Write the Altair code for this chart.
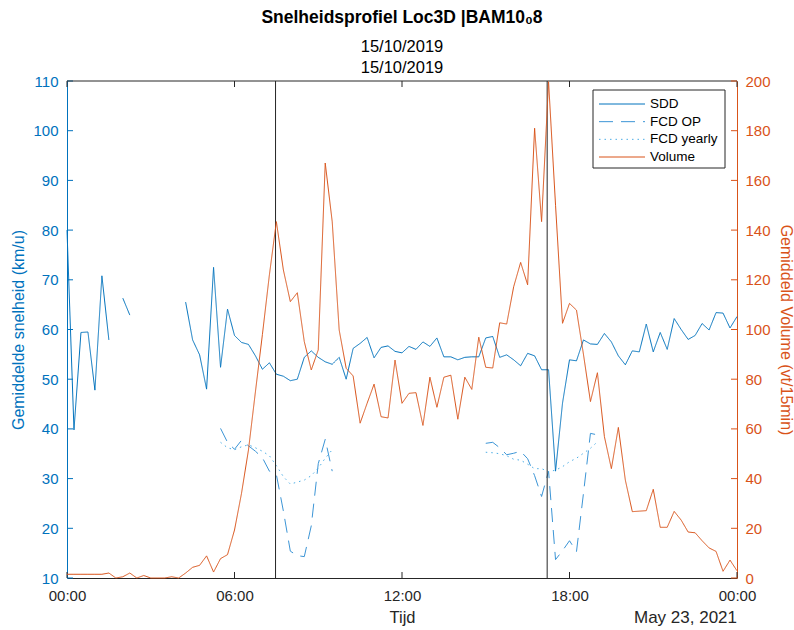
import altair as alt
import pandas as pd

# 15-minute intervals, 00:00 .. 24:00
STAP_UUR = 0.25

sdd = [
    80.0, 39.8, 59.4, 59.5, 47.8, 70.8, 57.9, None, 66.3, 62.9,
    None, None, None, None, None, None, None, 65.5, 57.9, 54.9,
    48.0, 72.5, 52.4, 64.1, 58.8, 57.4, 57.0, 54.7, 52.0, 53.3,
    51.0, 50.6, 49.7, 50.0, 54.4, 55.7, 54.4, 53.5, 53.0, 54.4,
    50.0, 56.2, 57.2, 58.4, 54.3, 56.4, 56.7, 55.6, 55.3, 56.6,
    56.0, 57.5, 56.6, 58.3, 54.5, 54.5, 53.9, 54.4, 54.5, 54.5,
    58.3, 58.6, 54.4, 54.9, 53.9, 52.7, 55.2, 54.7, 51.9, 51.9,
    31.5, 45.2, 53.9, 53.7, 57.9, 57.1, 57.0, 59.2, 57.5, 54.7,
    52.9, 55.7, 55.5, 61.1, 55.5, 59.4, 56.0, 62.2, 60.0, 58.0,
    58.8, 61.2, 59.9, 63.4, 63.3, 60.3, 62.6,
]

fcd_op = (
    [None] * 22
    + [40.1, 37.3, 35.9, 37.7, 36.6, 35.5, 34.2, 31.5, 30.8, 23.5,
       15.4, 14.5, 14.3, 20.5, 33.0, 37.9, 31.5]
    + [None] * 21
    + [37.1, 37.3, 36.2, 34.8, 35.1, 35.5, 34.0, 30.6, 26.4, 31.5,
       13.7, 15.5, 17.5, 15.3, 27.0, 39.1, 38.8]
    + [None] * 20
)

fcd_jaar = (
    [None] * 22
    + [37.3, 36.2, 35.8, 36.4, 36.8, 36.2, 35.5, 34.6, 32.6, 30.4,
       28.9, 29.3, 29.7, 30.6, 32.1, 34.1, 35.8]
    + [None] * 21
    + [35.3, 35.2, 35.0, 34.6, 33.9, 33.7, 32.9, 32.0, 32.0, 31.4,
       31.7, 32.4, 33.4, 34.1, 35.1, 36.1, 37.4]
    + [None] * 20
)

volume = [
    1.5, 1.5, 1.5, 1.5, 1.5, 1.5, 2.0, 0.0, 0.5, 2.0,
    0.0, 1.0, 0.0, 0.0, 0.0, 0.5, 0.0, 2.0, 4.3, 5.1,
    8.9, 2.4, 7.8, 9.4, 19.3, 34.0, 51.5, 75.0, 98.0, 122.0,
    143.4, 124.0, 111.2, 114.8, 95.1, 83.7, 91.8, 167.0, 143.4, 99.8,
    84.4, 81.3, 62.3, 70.3, 78.0, 64.9, 64.4, 87.7, 70.3, 74.3,
    74.6, 61.4, 80.8, 68.7, 80.8, 81.6, 63.9, 80.8, 75.9, 96.9,
    84.8, 84.5, 102.7, 102.2, 117.2, 127.0, 118.0, 181.0, 143.4, 199.7,
    150.0, 102.5, 110.5, 107.8, 90.0, 71.0, 82.6, 56.9, 44.0, 60.6,
    39.4, 26.7, 26.9, 27.1, 35.7, 20.4, 20.4, 26.8, 23.3, 18.5,
    18.2, 15.0, 12.1, 10.7, 2.7, 7.2, 2.9,
]

reeksen = ["SDD", "FCD OP", "FCD yearly", "Volume"]
kleuren = ["#0072BD", "#3C95D6", "#4DAEE6", "#D95319"]
streepjes = [[1, 0], [14, 8], [1.5, 4], [1, 0]]

piek_uren = [7.47, 17.2]
x_ticks = [0, 6, 12, 18, 24]
snelheid_ticks = list(range(10, 111, 10))
volume_ticks = list(range(0, 201, 20))
datum_label = "May 23, 2021"

BLAUW = "#0072BD"
ORANJE = "#D95319"
ZWART = "#262626"
W, H = 670, 497
TICK = 6
FONT = "Liberation Sans"


def lange_tabel(naam, waarden):
    """Long-form rows; a new segment starts after every gap so lines break there."""
    rijen, segment, vorige_leeg = [], 0, True
    for i, v in enumerate(waarden):
        if v is None:
            vorige_leeg = True
            continue
        if vorige_leeg:
            segment += 1
            vorige_leeg = False
        rijen.append({"uur": i * STAP_UUR, "waarde": v, "reeks": naam,
                      "segment": f"{naam}-{segment}"})
    return rijen


df_snel = pd.DataFrame(lange_tabel("SDD", sdd) + lange_tabel("FCD OP", fcd_op)
                       + lange_tabel("FCD yearly", fcd_jaar))
df_vol = pd.DataFrame(lange_tabel("Volume", volume))

x_schaal = alt.Scale(domain=[0, 24], nice=False, zero=False)
y_snel_schaal = alt.Scale(domain=[10, 110], nice=False, zero=False)
y_vol_schaal = alt.Scale(domain=[0, 200], nice=False, zero=False)
kleur_schaal = alt.Scale(domain=reeksen, range=kleuren)
dash_schaal = alt.Scale(domain=reeksen, range=streepjes)

x_as = alt.Axis(
    values=x_ticks,
    labelExpr="datum.value == 24 ? '00:00' : (datum.value < 10 ? '0' + datum.value : '' + datum.value) + ':00'",
    title="Tijd", domainColor=ZWART, labelColor=ZWART, titleColor=ZWART,
    labelFontSize=15, titleFontSize=16.5, titleFontWeight="normal",
    labelPadding=10, titlePadding=6, ticks=False, grid=False, labelFlush=False,
    labelFont=FONT, titleFont=FONT,
)

y_links = alt.Axis(
    values=snelheid_ticks, title="Gemiddelde snelheid (km/u)",
    domainColor=BLAUW, labelColor=BLAUW, titleColor=BLAUW,
    labelFontSize=15, titleFontSize=16, titleFontWeight="normal",
    labelPadding=9, titlePadding=6, ticks=False, grid=False, labelFont=FONT, titleFont=FONT,
)

y_rechts = alt.Axis(
    orient="right", values=volume_ticks, title="Gemiddeld Volume (vt/15min)",
    domainColor=ORANJE, labelColor=ORANJE, titleColor=ORANJE,
    labelFontSize=15, titleFontSize=16, titleFontWeight="normal",
    labelPadding=8, titlePadding=7, ticks=False, grid=False, labelFont=FONT, titleFont=FONT,
)

x_enc = alt.X("uur:Q", scale=x_schaal, axis=x_as)

# --- speed panel (left axis) ---
snelheid_lijnen = alt.Chart(df_snel).mark_line(strokeWidth=1).encode(
    x=x_enc,
    y=alt.Y("waarde:Q", scale=y_snel_schaal, axis=y_links),
    color=alt.Color("reeks:N", scale=kleur_schaal, legend=None),
    strokeDash=alt.StrokeDash("reeks:N", scale=dash_schaal, legend=None),
    detail="segment:N",
)

piek_lijnen = alt.Chart(pd.DataFrame({"uur": piek_uren})).mark_rule(
    color=ZWART, strokeWidth=1
).encode(
    x=x_enc, y=alt.value(0), y2=alt.value(H),
)

links_ticks = alt.Chart(pd.DataFrame({"waarde": snelheid_ticks})).mark_rule(
    color=BLAUW, strokeWidth=1
).encode(
    y=alt.Y("waarde:Q", scale=y_snel_schaal, axis=y_links),
    x=alt.value(0), x2=alt.value(TICK),
)

onder_ticks = alt.Chart(pd.DataFrame({"uur": x_ticks})).mark_rule(
    color=ZWART, strokeWidth=1
).encode(
    x=x_enc, y=alt.value(H - TICK), y2=alt.value(H),
)

boven_ticks = alt.Chart(pd.DataFrame({"uur": x_ticks})).mark_rule(
    color=ZWART, strokeWidth=1
).encode(
    x=x_enc, y=alt.value(0), y2=alt.value(TICK),
)

bovenrand = alt.Chart(pd.DataFrame({"uur": [0, 24]})).mark_rule(
    color=ZWART, strokeWidth=1
).encode(
    x=alt.X("min(uur):Q", scale=x_schaal, axis=x_as),
    x2="max(uur):Q", y=alt.value(0),
)

datum_tekst = alt.Chart(pd.DataFrame({"uur": [24], "tekst": [datum_label]})).mark_text(
    align="right", baseline="middle", fontSize=17, color=ZWART, font=FONT
).encode(
    x=x_enc, y=alt.value(H + 40), text="tekst:N",
)

snelheid_laag = alt.layer(
    links_ticks, onder_ticks, boven_ticks, bovenrand,
    snelheid_lijnen, piek_lijnen, datum_tekst,
)

# --- volume panel (right axis) ---
volume_lijn = alt.Chart(df_vol).mark_line(strokeWidth=1).encode(
    x=x_enc,
    y=alt.Y("waarde:Q", scale=y_vol_schaal, axis=y_rechts),
    color=alt.Color("reeks:N", scale=kleur_schaal, legend=None),
    strokeDash=alt.StrokeDash("reeks:N", scale=dash_schaal, legend=None),
    detail="segment:N",
)

rechts_ticks = alt.Chart(pd.DataFrame({"waarde": volume_ticks})).mark_rule(
    color=ORANJE, strokeWidth=1
).encode(
    y=alt.Y("waarde:Q", scale=y_vol_schaal, axis=y_rechts),
    x=alt.value(W - TICK), x2=alt.value(W),
)

volume_laag = alt.layer(rechts_ticks, volume_lijn)

# --- legend box (own point scale for the rows) ---
legenda_df = pd.DataFrame({"reeks": reeksen})
leg_y = alt.Y(
    "reeks:N",
    scale=alt.Scale(type="point", domain=reeksen, range=[23, 76], padding=0),
    axis=alt.Axis(labels=False, domain=False, ticks=False, grid=False, title=None),
)

leg_kader = alt.Chart(pd.DataFrame({"reeks": reeksen[:1]})).mark_rect(
    fill="white", stroke=ZWART, strokeWidth=1
).encode(
    x=alt.value(526), x2=alt.value(658), y=alt.value(9), y2=alt.value(87),
)

leg_lijn = alt.Chart(legenda_df).mark_rule(strokeWidth=1).encode(
    x=alt.value(532), x2=alt.value(578), y=leg_y,
    color=alt.Color("reeks:N", scale=kleur_schaal, legend=None),
    strokeDash=alt.StrokeDash("reeks:N", scale=dash_schaal, legend=None),
)

leg_tekst = alt.Chart(legenda_df).mark_text(
    align="left", baseline="middle", fontSize=13.5, color="#000000", font=FONT
).encode(
    x=alt.value(583), y=leg_y, text="reeks:N",
)

legenda_laag = alt.layer(leg_kader, leg_lijn, leg_tekst)

chart = alt.layer(snelheid_laag, volume_laag, legenda_laag).resolve_scale(
    y="independent"
).properties(
    width=W, height=H,
    title=alt.TitleParams(
        text="Snelheidsprofiel Loc3D |BAM10\u20808",
        subtitle=["15/10/2019", "15/10/2019"],
        anchor="middle", fontSize=17.5, fontWeight="bold", color="#000000",
        subtitleFontSize=16.5, subtitleColor="#000000", subtitleLineHeight=21,
        subtitlePadding=12, offset=-2, font=FONT, subtitleFont=FONT,
    ),
    autosize=alt.AutoSizeParams(type="none"),
    padding={"left": 67, "top": 81, "right": 57, "bottom": 52},
).configure(
    font=FONT,
    background="white",
).configure_view(
    stroke=None,
)

chart.save("out.html", embed_options={"renderer": "svg", "actions": False})
